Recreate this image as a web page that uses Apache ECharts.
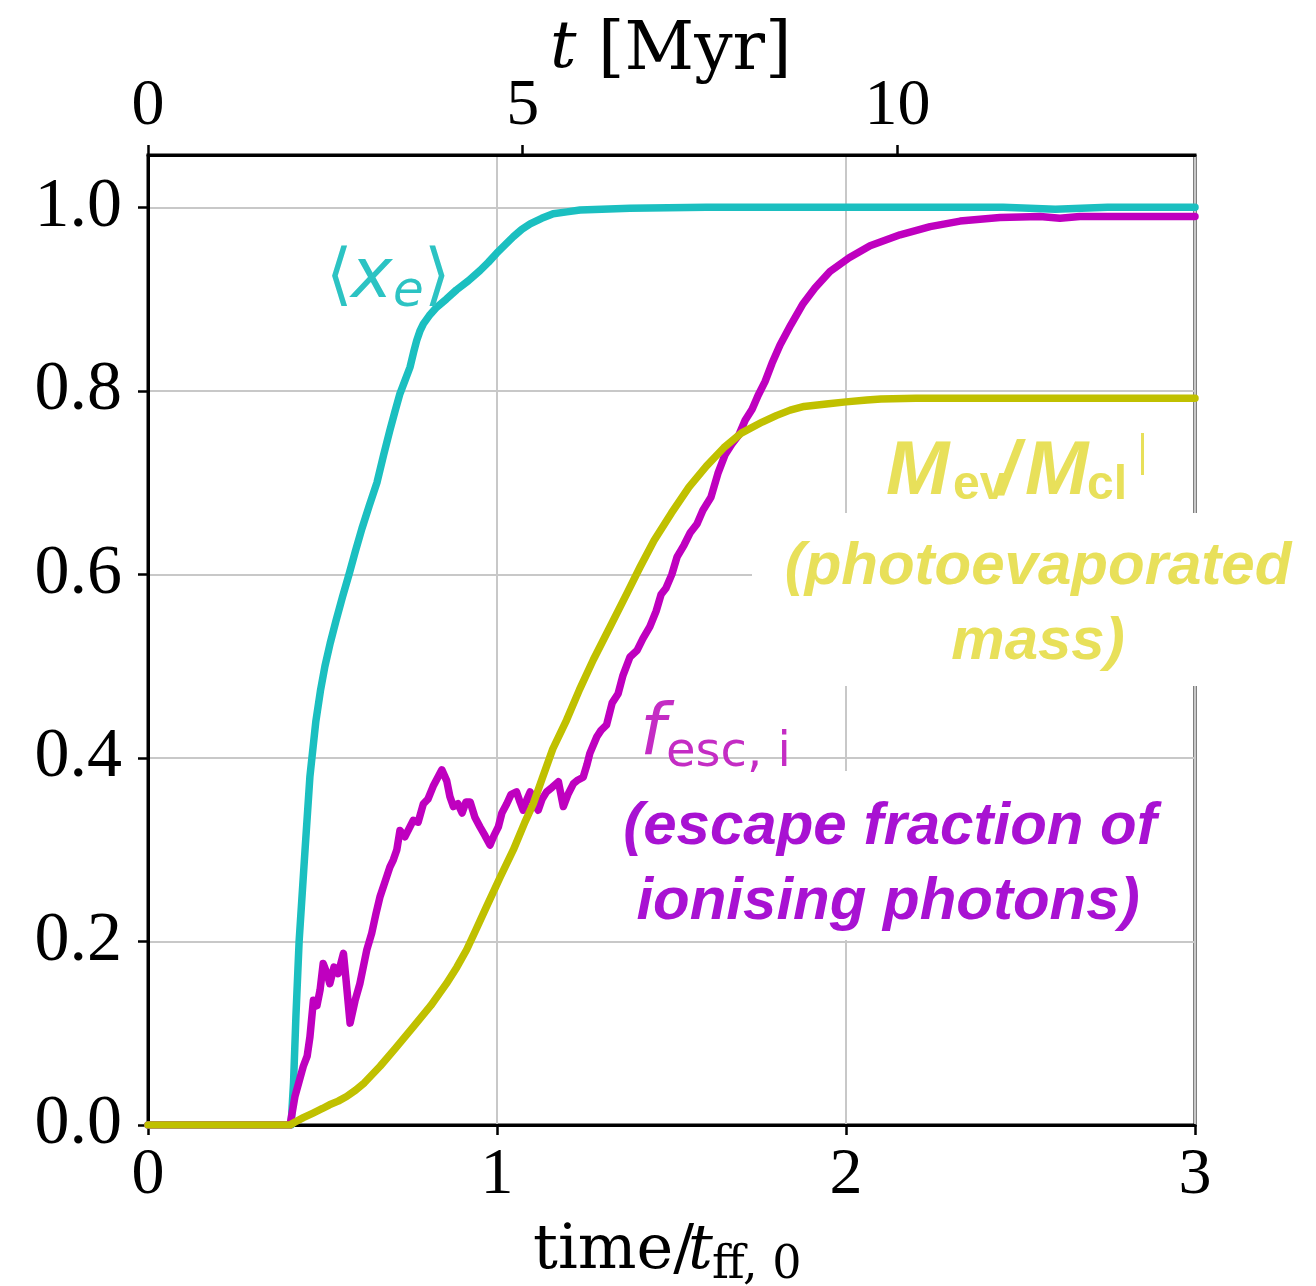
<!DOCTYPE html>
<html><head><meta charset="utf-8">
<script src="https://cdn.jsdelivr.net/npm/echarts@6/dist/echarts.min.js"></script>
<style>html,body{margin:0;padding:0;background:#fff}#c{width:1316px;height:1286px}</style>
</head><body><div id="c"></div>
<script>
// ---------------- data ----------------
const xAxisTicks = [0, 1, 2, 3];
const yAxisTicks = [0.0, 0.2, 0.4, 0.6, 0.8, 1.0];
const topTickLabels = [0, 5, 10];
const myrPerTff = 4.657;   // top axis: t [Myr] per t_ff,0

// <x_e> (cyan)
const xeTime  = [0, 0.41, 0.417, 0.424, 0.433, 0.45, 0.464, 0.481, 0.494, 0.507, 0.522, 0.539, 0.557, 0.576, 0.594, 0.613, 0.634, 0.656, 0.675, 0.693, 0.708, 0.722, 0.737, 0.751, 0.761, 0.770, 0.779, 0.789, 0.806, 0.827, 0.855, 0.884, 0.918, 0.951, 0.975, 0.999, 1.023, 1.047, 1.071, 1.095, 1.128, 1.161, 1.20, 1.238, 1.30, 1.381, 1.6, 2.0, 2.45, 2.6, 2.75, 3.0];
const xeValue = [0, 0,    0.046, 0.12,  0.20,  0.30, 0.38,  0.44,  0.473, 0.50,  0.525, 0.55,  0.575, 0.60,  0.625, 0.65,  0.675, 0.70,  0.73,  0.757, 0.778, 0.797, 0.812, 0.826, 0.842, 0.855, 0.865, 0.873, 0.882, 0.891, 0.900, 0.910, 0.920, 0.931, 0.940, 0.950, 0.959, 0.968, 0.976, 0.982, 0.988, 0.993, 0.995, 0.997, 0.998, 0.999, 1.0, 1.0, 1.0, 0.998, 1.0, 1.0];

// f_esc,i (magenta)
const fescTime  = [0, 0.407, 0.421, 0.445, 0.456, 0.464, 0.474, 0.484, 0.493, 0.502, 0.513, 0.521, 0.533, 0.545, 0.560, 0.567, 0.579, 0.593, 0.607, 0.627, 0.641, 0.653, 0.665, 0.679, 0.693, 0.703, 0.713, 0.722, 0.736, 0.760, 0.774, 0.789, 0.802, 0.817, 0.842, 0.856, 0.865, 0.875, 0.888, 0.900, 0.911, 0.923, 0.937, 0.951, 0.966, 0.980, 0.991, 1.004, 1.014, 1.028, 1.040, 1.056, 1.066, 1.075, 1.086, 1.095, 1.106, 1.118, 1.129, 1.142, 1.158, 1.176, 1.190, 1.203, 1.219, 1.232, 1.247, 1.258, 1.266, 1.286, 1.298, 1.314, 1.330, 1.347, 1.361, 1.381, 1.401, 1.418, 1.438, 1.456, 1.470, 1.484, 1.501, 1.516, 1.536, 1.553, 1.573, 1.590, 1.613, 1.633, 1.653, 1.673, 1.693, 1.711, 1.731, 1.748, 1.768, 1.788, 1.811, 1.842, 1.877, 1.911, 1.954, 2.009, 2.069, 2.155, 2.241, 2.327, 2.441, 2.556, 2.613, 2.670, 2.785, 3.0];
const fescValue = [0, 0,     0.031, 0.064, 0.075, 0.096, 0.136, 0.130, 0.147, 0.176, 0.165, 0.154, 0.172, 0.165, 0.187, 0.160, 0.111, 0.135, 0.154, 0.191, 0.209, 0.230, 0.249, 0.265, 0.281, 0.289, 0.300, 0.321, 0.314, 0.332, 0.330, 0.350, 0.355, 0.369, 0.387, 0.375, 0.358, 0.347, 0.350, 0.340, 0.352, 0.352, 0.335, 0.325, 0.315, 0.305, 0.315, 0.325, 0.340, 0.350, 0.360, 0.363, 0.352, 0.343, 0.355, 0.363, 0.350, 0.343, 0.355, 0.363, 0.368, 0.374, 0.347, 0.360, 0.372, 0.376, 0.379, 0.393, 0.405, 0.423, 0.430, 0.436, 0.460, 0.470, 0.490, 0.510, 0.517, 0.530, 0.543, 0.560, 0.578, 0.585, 0.600, 0.619, 0.632, 0.645, 0.655, 0.670, 0.684, 0.710, 0.730, 0.742, 0.752, 0.768, 0.780, 0.795, 0.810, 0.830, 0.850, 0.872, 0.895, 0.912, 0.930, 0.945, 0.958, 0.970, 0.979, 0.985, 0.989, 0.990, 0.988, 0.990, 0.990, 0.990];

// M_ev / M_cl (yellow)
const mevTime  = [0, 0.407, 0.42, 0.445, 0.473, 0.50, 0.52, 0.545, 0.569, 0.595, 0.62, 0.665, 0.71, 0.76, 0.81, 0.855, 0.885, 0.913, 0.940, 0.970, 1.009, 1.047, 1.08, 1.104, 1.13, 1.16, 1.199, 1.237, 1.276, 1.324, 1.372, 1.41, 1.45, 1.50, 1.55, 1.60, 1.65, 1.70, 1.76, 1.80, 1.84, 1.88, 1.95, 2.0, 2.06, 2.1, 2.2, 3.0];
const mevValue = [0, 0,     0.003, 0.008, 0.013, 0.018, 0.022, 0.026, 0.031, 0.038, 0.046, 0.064, 0.084, 0.107, 0.130, 0.154, 0.172, 0.191, 0.213, 0.238, 0.270, 0.300, 0.330, 0.350, 0.378, 0.410, 0.441, 0.475, 0.507, 0.543, 0.579, 0.608, 0.637, 0.667, 0.695, 0.718, 0.738, 0.754, 0.766, 0.773, 0.779, 0.783, 0.786, 0.788, 0.790, 0.791, 0.792, 0.792];

// ---------------- chart ----------------
const zip = (a, b) => a.map((v, i) => [v, b[i]]);
const chart = echarts.init(document.getElementById('c'), null, {renderer: 'canvas'});

const TICK_FONT = 'Liberation Serif';
function T(text, x, base, fs, fam, color, o) {
  o = o || {};
  return {
    type: 'text', x: x, y: base - 0.3 * fs, z: 120,
    style: {
      text: text, fontSize: fs, fontFamily: fam, fill: color,
      fontStyle: o.italic ? 'italic' : 'normal',
      fontWeight: o.bold ? 'bold' : 'normal',
      align: o.align || 'left', verticalAlign: 'middle'
    }
  };
}
const CYAN = '#1bbfc0', MAG = '#bf00bf', YEL = '#c0c000';
const CYAN_T = '#2cc3c3', MAG_T = '#c42cc4', YEL_T = '#e8e05a', PUR_T = '#a812d2';
const LW = 7.5;

const option = {
  animation: false,
  backgroundColor: '#fff',
  grid: {left: 148, right: 121, top: 155, bottom: 161, show: true, borderColor: '#000', borderWidth: 3, backgroundColor: 'transparent'},
  xAxis: [
    {
      type: 'value', position: 'bottom', min: xAxisTicks[0], max: xAxisTicks[xAxisTicks.length - 1], interval: 1,
      axisLine: {show: true, onZero: false, lineStyle: {color: '#000', width: 3}},
      axisTick: {show: true, length: 10, lineStyle: {color: '#000', width: 2.5}},
      axisLabel: {fontFamily: TICK_FONT, fontSize: 66, color: '#000', margin: 18},
      splitLine: {show: true, lineStyle: {color: '#c8c8c8', width: 2}}
    },
    {
      type: 'value', position: 'top', min: 0, max: 3 * myrPerTff, interval: 5,
      axisLine: {show: true, onZero: false, lineStyle: {color: '#000', width: 3}},
      axisTick: {show: true, length: 10, lineStyle: {color: '#000', width: 2.5}},
      axisLabel: {fontFamily: TICK_FONT, fontSize: 66, color: '#000', margin: 15, showMaxLabel: false,
        formatter: v => topTickLabels.indexOf(Math.round(v)) >= 0 && Math.abs(v - Math.round(v)) < 1e-6 ? String(Math.round(v)) : ''},
      splitLine: {show: false}
    }
  ],
  yAxis: {
    type: 'value', min: 0, max: 1.057, interval: 0.2,
    axisLine: {show: true, onZero: false, lineStyle: {color: '#000', width: 3}},
    axisTick: {show: true, length: 10, lineStyle: {color: '#000', width: 2.5}},
    axisLabel: {fontFamily: TICK_FONT, fontSize: 70, color: '#000', margin: 26, showMaxLabel: false,
      formatter: v => {
        const hit = yAxisTicks.find(t => Math.abs(t - v) < 1e-6);
        return hit === undefined ? '' : hit.toFixed(1);
      }},
    splitLine: {show: true, lineStyle: {color: '#c8c8c8', width: 2}}
  },
  series: [
    {type: 'line', name: 'xe', data: zip(xeTime, xeValue), showSymbol: false,
      lineStyle: {color: CYAN, width: LW, join: 'round', cap: 'round'}, z: 2},
    {type: 'line', name: 'fesc', data: zip(fescTime, fescValue), showSymbol: false,
      lineStyle: {color: MAG, width: LW, join: 'round', cap: 'round'}, z: 3},
    {type: 'line', name: 'mev', data: zip(mevTime, mevValue), showSymbol: false,
      lineStyle: {color: YEL, width: LW, join: 'round', cap: 'round'}, z: 4}
  ],
  graphic: {elements: [
    {type: 'rect', z: 100, shape: {x: 752, y: 513, width: 564, height: 173}, style: {fill: '#fff'}},
    {type: 'rect', z: 100, shape: {x: 595, y: 771, width: 596, height: 169}, style: {fill: '#fff'}},
    // <x_e>
    T('\u27E8', 326, 300, 68, 'DejaVu Sans', CYAN_T),
    T('x', 351, 300, 70, 'DejaVu Sans', CYAN_T, {italic: true}),
    T('e', 393, 308, 50, 'DejaVu Sans', CYAN_T, {italic: true}),
    T('\u27E9', 424, 300, 68, 'DejaVu Sans', CYAN_T),
    // f_esc,i
    T('f', 640, 757, 72, 'DejaVu Sans', MAG_T, {italic: true}),
    T('esc, i', 666, 768, 48, 'DejaVu Sans', MAG_T),
    // M_ev / M_cl
    T('M', 886, 496, 76, 'Liberation Sans', YEL_T, {italic: true, bold: true}),
    T('ev', 953, 500, 48, 'Liberation Sans', YEL_T, {bold: true}),
    T('/', 998, 496, 76, 'Liberation Sans', YEL_T, {italic: true, bold: true}),
    T('M', 1025, 496, 76, 'Liberation Sans', YEL_T, {italic: true, bold: true}),
    T('cl', 1087, 500, 48, 'Liberation Sans', YEL_T, {bold: true}),
    {type: 'rect', z: 120, shape: {x: 1141, y: 433, width: 3, height: 42}, style: {fill: YEL_T}},
    T('(photoevaporated', 1038, 585, 60, 'Liberation Sans', YEL_T, {italic: true, bold: true, align: 'center'}),
    T('mass)', 1038, 660, 60, 'Liberation Sans', YEL_T, {italic: true, bold: true, align: 'center'}),
    T('(escape fraction of', 890, 845, 60, 'Liberation Sans', PUR_T, {italic: true, bold: true, align: 'center'}),
    T('ionising photons)', 888, 920, 60, 'Liberation Sans', PUR_T, {italic: true, bold: true, align: 'center'}),
    // axis titles
    T('t', 550, 70, 66, 'DejaVu Serif', '#000', {italic: true}),
    T('[Myr]', 598, 72, 68, 'DejaVu Serif', '#000'),
    T('time/', 533, 1270, 62, 'DejaVu Serif', '#000'),
    T('t', 688, 1270, 62, 'DejaVu Serif', '#000', {italic: true}),
    T('ff, 0', 712, 1280, 46, 'DejaVu Serif', '#000')
  ]}
};
chart.setOption(option);
</script>
</body></html>
